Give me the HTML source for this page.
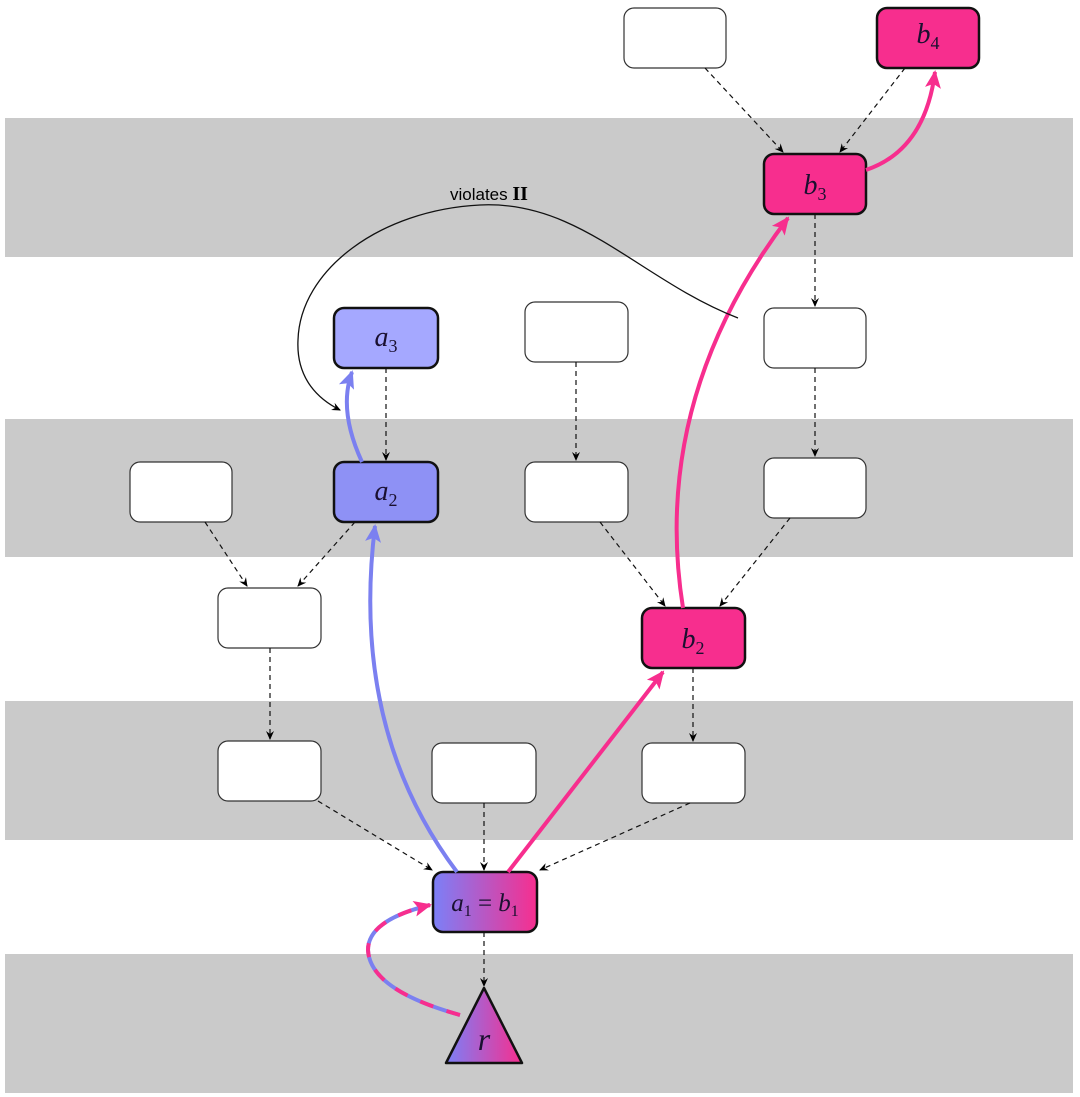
<!DOCTYPE html><html><head><style>body{margin:0;background:#fff}svg{display:block}</style></head><body>
<svg width="1080" height="1097" viewBox="0 0 1080 1097" xmlns="http://www.w3.org/2000/svg">
<defs>
<marker id="ak" markerWidth="10" markerHeight="10" refX="8" refY="5" orient="auto" markerUnits="userSpaceOnUse"><path d="M0,1 L9,5 L0,9 L3,5z" fill="#000"/></marker>
<marker id="ab" markerWidth="20" markerHeight="20" refX="16" refY="9" orient="auto" markerUnits="userSpaceOnUse"><path d="M0,1 L18,9 L0,17 L4,9z" fill="#7b80f0"/></marker>
<marker id="ap" markerWidth="20" markerHeight="20" refX="16" refY="9" orient="auto" markerUnits="userSpaceOnUse"><path d="M0,1 L18,9 L0,17 L4,9z" fill="#f72e8e"/></marker>
<linearGradient id="g" x1="0" x2="1"><stop offset="0" stop-color="#7b80f8"/><stop offset="1" stop-color="#f72e8e"/></linearGradient>
</defs>
<g fill="#cacaca"><rect x="5" y="118" width="1068" height="139"/><rect x="5" y="419" width="1068" height="138"/><rect x="5" y="701" width="1068" height="139"/><rect x="5" y="954" width="1068" height="139"/></g>
<g fill="#fff" stroke="#333" stroke-width="1.2">
<rect x="624" y="8" width="102" height="60" rx="10"/><rect x="525" y="302" width="103" height="60" rx="10"/><rect x="764" y="308" width="102" height="60" rx="10"/><rect x="130" y="462" width="102" height="60" rx="10"/><rect x="525" y="462" width="103" height="60" rx="10"/><rect x="764" y="458" width="102" height="60" rx="10"/><rect x="218" y="588" width="103" height="60" rx="10"/><rect x="218" y="741" width="103" height="60" rx="10"/><rect x="432" y="743" width="104" height="60" rx="10"/><rect x="642" y="743" width="103" height="60" rx="10"/>
</g>
<g stroke="#111" stroke-width="2.5">
<rect x="877" y="8" width="102" height="60" rx="10" fill="#f72e8e"/><rect x="764" y="154" width="102" height="60" rx="10" fill="#f72e8e"/><rect x="642" y="608" width="103" height="60" rx="10" fill="#f72e8e"/>
<rect x="334" y="308" width="104" height="60" rx="10" fill="#a5a8ff"/><rect x="334" y="462" width="104" height="60" rx="10" fill="#8e91f5"/>
<rect x="433" y="872" width="104" height="60" rx="10" fill="url(#g)"/>
<path d="M484,988 L522,1063 L446,1063 Z" fill="url(#g)" stroke-linejoin="round"/>
</g>
<g stroke="#111" stroke-width="1.2" stroke-dasharray="5,4" fill="none" marker-end="url(#ak)">
<path d="M705,68 L783,152"/><path d="M905,68 L840,152"/><path d="M815,214 L815,306"/><path d="M815,368 L815,456"/><path d="M386,368 L386,460"/><path d="M576,362 L576,460"/><path d="M205,522 L247,586"/><path d="M355,522 L298,586"/><path d="M600,522 L665,606"/><path d="M790,518 L720,606"/><path d="M270,648 L270,739"/><path d="M693,668 L693,741"/><path d="M318,801 L432,870"/><path d="M484,803 L484,870"/><path d="M690,803 L540,870"/><path d="M484,932 L484,986"/>
</g>
<g fill="none" stroke-width="4">
<path d="M457,872 Q350,730 375,526" stroke="#7b80f0" marker-end="url(#ab)"/>
<path d="M362,462 Q338,410 352,372" stroke="#7b80f0" marker-end="url(#ab)"/>
<path d="M508,872 L663,672" stroke="#f72e8e" marker-end="url(#ap)"/>
<path d="M683,608 Q650,400 788,218" stroke="#f72e8e" marker-end="url(#ap)"/>
<path d="M866,170 Q925,150 935,72" stroke="#f72e8e" marker-end="url(#ap)"/>
<path d="M460,1015 Q370,990 368,950 Q368,920 430,905" stroke="#7b80f0"/>
<path d="M460,1015 Q370,990 368,950 Q368,920 430,905" stroke="#f72e8e" stroke-dasharray="14,14" marker-end="url(#ap)"/>
</g>
<path d="M738,318 C640,280 580,200 480,205 C380,210 300,270 298,340 C296,380 320,400 340,410" fill="none" stroke="#111" stroke-width="1.3" marker-end="url(#ak)"/>
<text x="450" y="200" font-family="Liberation Sans,sans-serif" font-size="17">violates <tspan font-family="Liberation Serif,serif" font-weight="bold" font-size="20">II</tspan></text>
<g font-family="Liberation Serif,serif" font-style="italic" font-size="28" fill="#1a1030" text-anchor="middle">
<text x="928" y="43">b<tspan font-size="18" font-style="normal" dy="6">4</tspan></text>
<text x="815" y="194">b<tspan font-size="18" font-style="normal" dy="6">3</tspan></text>
<text x="693" y="648">b<tspan font-size="18" font-style="normal" dy="6">2</tspan></text>
<text x="386" y="346">a<tspan font-size="18" font-style="normal" dy="6">3</tspan></text>
<text x="386" y="500">a<tspan font-size="18" font-style="normal" dy="6">2</tspan></text>
<text x="485" y="911" font-size="25">a<tspan font-size="16" font-style="normal" dy="5">1</tspan><tspan font-style="normal" dy="-5"> = </tspan>b<tspan font-size="16" font-style="normal" dy="5">1</tspan></text>
<text x="484" y="1050" font-size="32">r</text>
</g>
</svg>
</body></html>
